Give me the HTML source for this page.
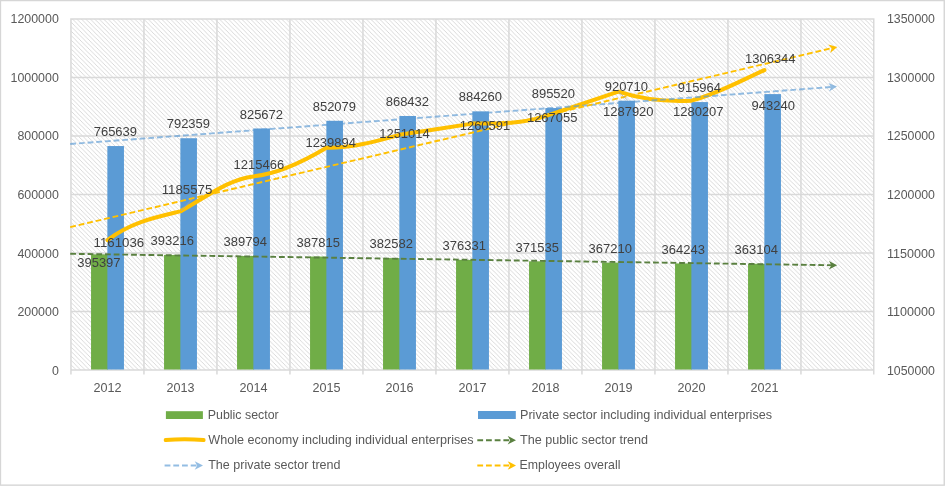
<!DOCTYPE html>
<html lang="en"><head><meta charset="utf-8"><title>Employees by sector</title>
<style>html,body{margin:0;padding:0;background:#fff;}body{width:945px;height:487px;overflow:hidden;}svg{display:block;}text{font-family:"Liberation Sans", Arial, sans-serif;}</style>
</head><body>
<svg width="945" height="487" viewBox="0 0 945 487">
<defs>
<pattern id="hatch" width="4.45" height="4.45" patternUnits="userSpaceOnUse"><rect width="4.45" height="4.45" fill="#fff"/><path d="M-1,-1 L5.45,5.45 M-1,3.45 L1,5.45 M3.45,-1 L5.45,1" stroke="#cfcfcf" stroke-width="0.78" fill="none"/></pattern>
</defs>
<rect x="0" y="0" width="945" height="487" fill="#fff"/>
<rect x="0.45" y="0.55" width="943.8" height="484.6" fill="none" stroke="#d6d6d6" stroke-width="1.4"/>
<rect x="70.95" y="19.00" width="802.80" height="351.00" fill="url(#hatch)"/>
<path d="M70.95,19.00 H873.75 M70.95,77.50 H873.75 M70.95,136.00 H873.75 M70.95,194.50 H873.75 M70.95,253.00 H873.75 M70.95,311.50 H873.75 M70.95,370.00 H873.75 M70.95,18.30 V374.50 M143.95,18.30 V374.50 M216.95,18.30 V374.50 M289.95,18.30 V374.50 M362.95,18.30 V374.50 M435.95,18.30 V374.50 M508.95,18.30 V374.50 M581.95,18.30 V374.50 M654.95,18.30 V374.50 M727.95,18.30 V374.50 M800.95,18.30 V374.50 M873.75,18.30 V374.50" stroke="#d9d9d9" stroke-width="1.5" fill="none"/>
<rect x="91.05" y="254.35" width="17.00" height="115.15" fill="#70ad47"/>
<rect x="107.35" y="146.05" width="16.60" height="223.45" fill="#5b9bd5"/>
<rect x="164.05" y="254.98" width="17.00" height="114.52" fill="#70ad47"/>
<rect x="180.35" y="138.23" width="16.60" height="231.27" fill="#5b9bd5"/>
<rect x="237.05" y="255.99" width="17.00" height="113.51" fill="#70ad47"/>
<rect x="253.35" y="128.49" width="16.60" height="241.01" fill="#5b9bd5"/>
<rect x="310.05" y="256.56" width="17.00" height="112.94" fill="#70ad47"/>
<rect x="326.35" y="120.77" width="16.60" height="248.73" fill="#5b9bd5"/>
<rect x="383.05" y="258.09" width="17.00" height="111.41" fill="#70ad47"/>
<rect x="399.35" y="115.98" width="16.60" height="253.52" fill="#5b9bd5"/>
<rect x="456.05" y="259.92" width="17.00" height="109.58" fill="#70ad47"/>
<rect x="472.35" y="111.35" width="16.60" height="258.15" fill="#5b9bd5"/>
<rect x="529.05" y="261.33" width="17.00" height="108.17" fill="#70ad47"/>
<rect x="545.35" y="108.06" width="16.60" height="261.44" fill="#5b9bd5"/>
<rect x="602.05" y="262.59" width="17.00" height="106.91" fill="#70ad47"/>
<rect x="618.35" y="100.69" width="16.60" height="268.81" fill="#5b9bd5"/>
<rect x="675.05" y="263.46" width="17.00" height="106.04" fill="#70ad47"/>
<rect x="691.35" y="102.08" width="16.60" height="267.42" fill="#5b9bd5"/>
<rect x="748.05" y="263.79" width="17.00" height="105.71" fill="#70ad47"/>
<rect x="764.35" y="94.10" width="16.60" height="275.40" fill="#5b9bd5"/>
<path d="M107.45,240.09 C131.78,221.84 156.12,217.22 180.45,211.38 C204.78,197.99 229.12,178.84 253.45,176.40 C277.78,173.97 302.12,162.42 326.45,147.82 C350.78,148.31 375.12,141.63 399.45,134.81 C423.78,131.09 448.12,127.33 472.45,123.61 C496.78,123.61 521.12,124.08 545.45,116.05 C569.78,107.92 594.12,99.76 618.45,91.63 C642.78,99.66 667.12,101.87 691.45,100.66 C715.78,94.57 740.12,81.03 764.45,70.08" stroke="#ffc000" stroke-width="4" stroke-linecap="round" stroke-linejoin="round" fill="none"/>
<path d="M70.20,253.80 L832.20,265.23" stroke="#5a8040" stroke-width="1.90" stroke-dasharray="5.8 2.9" stroke-opacity="1" fill="none"/><polygon points="837.20,265.30 828.97,260.88 831.39,265.21 828.84,269.48" fill="#5a8040" fill-opacity="1"/>
<path d="M70.20,144.00 L832.01,86.97" stroke="#5b9bd5" stroke-width="1.90" stroke-dasharray="5.8 2.9" stroke-opacity="0.66" fill="none"/><polygon points="837.00,86.60 828.40,82.93 831.21,87.03 829.04,91.51" fill="#5b9bd5" fill-opacity="0.66"/>
<path d="M70.20,227.10 L832.43,48.04" stroke="#ffc000" stroke-width="1.90" stroke-dasharray="5.8 2.9" stroke-opacity="1" fill="none"/><polygon points="837.30,46.90 828.24,44.61 831.64,48.23 830.20,52.98" fill="#ffc000" fill-opacity="1"/>
<path d="M192.6,198.7 L181,211 M618.5,92 L627.8,100.3" stroke="#a6a6a6" stroke-width="0.8" fill="none"/>
<text x="98.90" y="267.25" font-size="12.70" fill="#404040" text-anchor="middle" textLength="43.32" lengthAdjust="spacingAndGlyphs">395397</text>
<text x="115.35" y="136.10" font-size="12.70" fill="#404040" text-anchor="middle" textLength="43.32" lengthAdjust="spacingAndGlyphs">765639</text>
<text x="172.25" y="245.23" font-size="12.70" fill="#404040" text-anchor="middle" textLength="43.32" lengthAdjust="spacingAndGlyphs">393216</text>
<text x="188.35" y="128.28" font-size="12.70" fill="#404040" text-anchor="middle" textLength="43.32" lengthAdjust="spacingAndGlyphs">792359</text>
<text x="245.25" y="246.23" font-size="12.70" fill="#404040" text-anchor="middle" textLength="43.32" lengthAdjust="spacingAndGlyphs">389794</text>
<text x="261.35" y="118.54" font-size="12.70" fill="#404040" text-anchor="middle" textLength="43.32" lengthAdjust="spacingAndGlyphs">825672</text>
<text x="318.25" y="246.81" font-size="12.70" fill="#404040" text-anchor="middle" textLength="43.32" lengthAdjust="spacingAndGlyphs">387815</text>
<text x="334.35" y="110.81" font-size="12.70" fill="#404040" text-anchor="middle" textLength="43.32" lengthAdjust="spacingAndGlyphs">852079</text>
<text x="391.25" y="248.34" font-size="12.70" fill="#404040" text-anchor="middle" textLength="43.32" lengthAdjust="spacingAndGlyphs">382582</text>
<text x="407.35" y="106.03" font-size="12.70" fill="#404040" text-anchor="middle" textLength="43.32" lengthAdjust="spacingAndGlyphs">868432</text>
<text x="464.25" y="250.17" font-size="12.70" fill="#404040" text-anchor="middle" textLength="43.32" lengthAdjust="spacingAndGlyphs">376331</text>
<text x="480.35" y="101.40" font-size="12.70" fill="#404040" text-anchor="middle" textLength="43.32" lengthAdjust="spacingAndGlyphs">884260</text>
<text x="537.25" y="251.57" font-size="12.70" fill="#404040" text-anchor="middle" textLength="43.32" lengthAdjust="spacingAndGlyphs">371535</text>
<text x="553.35" y="98.11" font-size="12.70" fill="#404040" text-anchor="middle" textLength="43.32" lengthAdjust="spacingAndGlyphs">895520</text>
<text x="610.25" y="252.84" font-size="12.70" fill="#404040" text-anchor="middle" textLength="43.32" lengthAdjust="spacingAndGlyphs">367210</text>
<text x="626.35" y="90.74" font-size="12.70" fill="#404040" text-anchor="middle" textLength="43.32" lengthAdjust="spacingAndGlyphs">920710</text>
<text x="683.25" y="253.71" font-size="12.70" fill="#404040" text-anchor="middle" textLength="43.32" lengthAdjust="spacingAndGlyphs">364243</text>
<text x="699.35" y="92.13" font-size="12.70" fill="#404040" text-anchor="middle" textLength="43.32" lengthAdjust="spacingAndGlyphs">915964</text>
<text x="756.25" y="254.04" font-size="12.70" fill="#404040" text-anchor="middle" textLength="43.32" lengthAdjust="spacingAndGlyphs">363104</text>
<text x="773.30" y="109.75" font-size="12.70" fill="#404040" text-anchor="middle" textLength="43.32" lengthAdjust="spacingAndGlyphs">943240</text>
<text x="118.85" y="247.05" font-size="12.70" fill="#404040" text-anchor="middle" textLength="50.54" lengthAdjust="spacingAndGlyphs">1161036</text>
<text x="187.00" y="194.05" font-size="12.70" fill="#404040" text-anchor="middle" textLength="50.54" lengthAdjust="spacingAndGlyphs">1185575</text>
<text x="258.90" y="169.05" font-size="12.70" fill="#404040" text-anchor="middle" textLength="50.54" lengthAdjust="spacingAndGlyphs">1215466</text>
<text x="330.70" y="146.95" font-size="12.70" fill="#404040" text-anchor="middle" textLength="50.54" lengthAdjust="spacingAndGlyphs">1239894</text>
<text x="404.50" y="137.75" font-size="12.70" fill="#404040" text-anchor="middle" textLength="50.54" lengthAdjust="spacingAndGlyphs">1251014</text>
<text x="485.00" y="130.45" font-size="12.70" fill="#404040" text-anchor="middle" textLength="50.54" lengthAdjust="spacingAndGlyphs">1260591</text>
<text x="552.20" y="122.35" font-size="12.70" fill="#404040" text-anchor="middle" textLength="50.54" lengthAdjust="spacingAndGlyphs">1267055</text>
<text x="628.30" y="115.65" font-size="12.70" fill="#404040" text-anchor="middle" textLength="50.54" lengthAdjust="spacingAndGlyphs">1287920</text>
<text x="698.30" y="115.65" font-size="12.70" fill="#404040" text-anchor="middle" textLength="50.54" lengthAdjust="spacingAndGlyphs">1280207</text>
<text x="770.30" y="63.45" font-size="12.70" fill="#404040" text-anchor="middle" textLength="50.54" lengthAdjust="spacingAndGlyphs">1306344</text>
<text x="58.80" y="374.97" font-size="12.20" fill="#595959" text-anchor="end" textLength="6.90" lengthAdjust="spacingAndGlyphs">0</text>
<text x="887.00" y="374.97" font-size="12.20" fill="#595959" text-anchor="start" textLength="47.95" lengthAdjust="spacingAndGlyphs">1050000</text>
<text x="58.80" y="316.30" font-size="12.20" fill="#595959" text-anchor="end" textLength="41.40" lengthAdjust="spacingAndGlyphs">200000</text>
<text x="887.00" y="316.30" font-size="12.20" fill="#595959" text-anchor="start" textLength="47.95" lengthAdjust="spacingAndGlyphs">1100000</text>
<text x="58.80" y="257.63" font-size="12.20" fill="#595959" text-anchor="end" textLength="41.40" lengthAdjust="spacingAndGlyphs">400000</text>
<text x="887.00" y="257.63" font-size="12.20" fill="#595959" text-anchor="start" textLength="47.95" lengthAdjust="spacingAndGlyphs">1150000</text>
<text x="58.80" y="198.96" font-size="12.20" fill="#595959" text-anchor="end" textLength="41.40" lengthAdjust="spacingAndGlyphs">600000</text>
<text x="887.00" y="198.96" font-size="12.20" fill="#595959" text-anchor="start" textLength="47.95" lengthAdjust="spacingAndGlyphs">1200000</text>
<text x="58.80" y="140.29" font-size="12.20" fill="#595959" text-anchor="end" textLength="41.40" lengthAdjust="spacingAndGlyphs">800000</text>
<text x="887.00" y="140.29" font-size="12.20" fill="#595959" text-anchor="start" textLength="47.95" lengthAdjust="spacingAndGlyphs">1250000</text>
<text x="58.80" y="81.62" font-size="12.20" fill="#595959" text-anchor="end" textLength="48.30" lengthAdjust="spacingAndGlyphs">1000000</text>
<text x="887.00" y="81.62" font-size="12.20" fill="#595959" text-anchor="start" textLength="47.95" lengthAdjust="spacingAndGlyphs">1300000</text>
<text x="58.80" y="22.95" font-size="12.20" fill="#595959" text-anchor="end" textLength="48.30" lengthAdjust="spacingAndGlyphs">1200000</text>
<text x="887.00" y="22.95" font-size="12.20" fill="#595959" text-anchor="start" textLength="47.95" lengthAdjust="spacingAndGlyphs">1350000</text>
<text x="107.45" y="392.11" font-size="12.60" fill="#595959" text-anchor="middle">2012</text>
<text x="180.45" y="392.11" font-size="12.60" fill="#595959" text-anchor="middle">2013</text>
<text x="253.45" y="392.11" font-size="12.60" fill="#595959" text-anchor="middle">2014</text>
<text x="326.45" y="392.11" font-size="12.60" fill="#595959" text-anchor="middle">2015</text>
<text x="399.45" y="392.11" font-size="12.60" fill="#595959" text-anchor="middle">2016</text>
<text x="472.45" y="392.11" font-size="12.60" fill="#595959" text-anchor="middle">2017</text>
<text x="545.45" y="392.11" font-size="12.60" fill="#595959" text-anchor="middle">2018</text>
<text x="618.45" y="392.11" font-size="12.60" fill="#595959" text-anchor="middle">2019</text>
<text x="691.45" y="392.11" font-size="12.60" fill="#595959" text-anchor="middle">2020</text>
<text x="764.45" y="392.11" font-size="12.60" fill="#595959" text-anchor="middle">2021</text>
<rect x="165.9" y="411.2" width="37" height="7.8" fill="#70ad47"/>
<text x="207.80" y="419.00" font-size="12.60" fill="#595959" textLength="70.90" lengthAdjust="spacingAndGlyphs">Public sector</text>
<rect x="478.0" y="411.0" width="37.8" height="8" fill="#5b9bd5"/>
<text x="520.00" y="419.00" font-size="12.60" fill="#595959">Private sector including individual enterprises</text>
<path d="M165.7,440.1 Q184.6,438.5 203.6,440.1" stroke="#ffc000" stroke-width="4" stroke-linecap="round" fill="none"/>
<text x="208.30" y="444.00" font-size="12.60" fill="#595959">Whole economy including individual enterprises</text>
<path d="M477.30,440.20 L511.00,440.20" stroke="#5a8040" stroke-width="1.90" stroke-dasharray="5.8 2.9" stroke-opacity="1" fill="none"/><polygon points="516.00,440.20 507.70,435.90 510.19,440.20 507.70,444.50" fill="#5a8040" fill-opacity="1"/>
<text x="520.00" y="444.00" font-size="12.60" fill="#595959">The public sector trend</text>
<path d="M164.60,465.50 L198.00,465.50" stroke="#5b9bd5" stroke-width="1.90" stroke-dasharray="5.8 2.9" stroke-opacity="0.66" fill="none"/><polygon points="203.00,465.50 194.70,461.20 197.19,465.50 194.70,469.80" fill="#5b9bd5" fill-opacity="0.66"/>
<text x="208.20" y="469.30" font-size="12.60" fill="#595959" textLength="132.30" lengthAdjust="spacingAndGlyphs">The private sector trend</text>
<path d="M477.30,465.50 L511.00,465.50" stroke="#ffc000" stroke-width="1.90" stroke-dasharray="5.8 2.9" stroke-opacity="1" fill="none"/><polygon points="516.00,465.50 507.70,461.20 510.19,465.50 507.70,469.80" fill="#ffc000" fill-opacity="1"/>
<text x="519.60" y="469.30" font-size="12.60" fill="#595959" textLength="100.80" lengthAdjust="spacingAndGlyphs">Employees overall</text>
</svg>
</body></html>
